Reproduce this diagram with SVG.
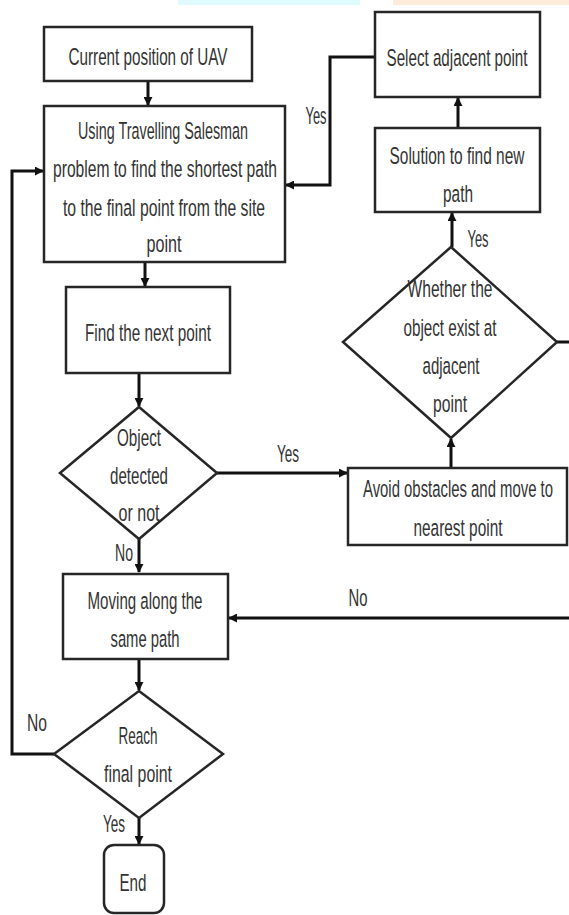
<svg xmlns="http://www.w3.org/2000/svg" width="569" height="915" viewBox="0 0 569 915">
<defs>
<style>
.box{fill:#fff;stroke:#262626;stroke-width:2.5}
.t{font-family:"Liberation Sans",Arial,sans-serif;font-size:24.5px;fill:#333;text-anchor:middle}
.c{fill:none;stroke:#111;stroke-width:3}
</style>
<marker id="ah" viewBox="0 0 10 10" refX="9" refY="5" markerWidth="3" markerHeight="3" orient="auto" markerUnits="strokeWidth">
<path d="M0,0 L10,5 L0,10 z" fill="#111"/>
</marker>
</defs>
<rect x="178" y="0" width="182" height="5" fill="#e0fbfd"/>
<rect x="393" y="0" width="176" height="5" fill="#fdebd9"/>

<g id="connectors">
<path class="c" d="M148,81 V105" marker-end="url(#ah)"/>
<path class="c" d="M145,262 V286" marker-end="url(#ah)"/>
<path class="c" d="M139,373 V406" marker-end="url(#ah)"/>
<path class="c" d="M139,539 V572" marker-end="url(#ah)"/>
<path class="c" d="M139,659 V690" marker-end="url(#ah)"/>
<path class="c" d="M139,818 V844" marker-end="url(#ah)"/>
<path class="c" d="M217,473 H347" marker-end="url(#ah)"/>
<path class="c" d="M451,468 V439" marker-end="url(#ah)"/>
<path class="c" d="M452,247 V213" marker-end="url(#ah)"/>
<path class="c" d="M458,128 V98" marker-end="url(#ah)"/>
<path class="c" d="M375,57 H330 V185 H286" marker-end="url(#ah)"/>
<path class="c" d="M557,342 H572"/>
<path class="c" d="M572,618 H229" marker-end="url(#ah)"/>
<path class="c" d="M54,754 H12 V171 H43" marker-end="url(#ah)"/>
<text class="t" x="316" y="124" textLength="21" lengthAdjust="spacingAndGlyphs">Yes</text>
<text class="t" x="478" y="247" textLength="21" lengthAdjust="spacingAndGlyphs">Yes</text>
<text class="t" x="288" y="462" textLength="22" lengthAdjust="spacingAndGlyphs">Yes</text>
<text class="t" x="124" y="561" textLength="18" lengthAdjust="spacingAndGlyphs">No</text>
<text class="t" x="358" y="606" textLength="19" lengthAdjust="spacingAndGlyphs">No</text>
<text class="t" x="37" y="731" textLength="20" lengthAdjust="spacingAndGlyphs">No</text>
<text class="t" x="114" y="832" textLength="22" lengthAdjust="spacingAndGlyphs">Yes</text>
</g>

<g id="n-current">
<rect class="box" x="44" y="27" width="208" height="54"/>
<text class="t" x="148" y="65" textLength="159" lengthAdjust="spacingAndGlyphs">Current position of UAV</text>
</g>

<g id="n-tsp">
<rect class="box" x="44" y="106" width="241" height="156"/>
<text class="t" x="163" y="139" textLength="170" lengthAdjust="spacingAndGlyphs">Using Travelling Salesman</text>
<text class="t" x="165" y="177" textLength="224" lengthAdjust="spacingAndGlyphs">problem to find the shortest path</text>
<text class="t" x="164" y="216" textLength="202" lengthAdjust="spacingAndGlyphs">to the final point from the site</text>
<text class="t" x="164" y="252" textLength="35" lengthAdjust="spacingAndGlyphs">point</text>
</g>

<g id="n-select">
<rect class="box" x="375" y="12" width="165" height="85"/>
<text class="t" x="457" y="66" textLength="141" lengthAdjust="spacingAndGlyphs">Select adjacent point</text>
</g>

<g id="n-solution">
<rect class="box" x="375" y="128" width="165" height="84"/>
<text class="t" x="457" y="164" textLength="135" lengthAdjust="spacingAndGlyphs">Solution to find new</text>
<text class="t" x="458" y="202" textLength="30" lengthAdjust="spacingAndGlyphs">path</text>
</g>

<g id="n-whether">
<polygon class="box" points="451,247 557,342 451,438 343,342"/>
<text class="t" x="450" y="297" textLength="85" lengthAdjust="spacingAndGlyphs">Whether the</text>
<text class="t" x="450" y="336" textLength="93" lengthAdjust="spacingAndGlyphs">object exist at</text>
<text class="t" x="451" y="374" textLength="57" lengthAdjust="spacingAndGlyphs">adjacent</text>
<text class="t" x="450" y="412" textLength="34" lengthAdjust="spacingAndGlyphs">point</text>
</g>

<g id="n-avoid">
<rect class="box" x="348" y="468" width="219" height="77"/>
<text class="t" x="458" y="497" textLength="190" lengthAdjust="spacingAndGlyphs">Avoid obstacles and move to</text>
<text class="t" x="458" y="536" textLength="89" lengthAdjust="spacingAndGlyphs">nearest point</text>
</g>

<g id="n-find">
<rect class="box" x="66" y="287" width="164" height="86"/>
<text class="t" x="148" y="341" textLength="126" lengthAdjust="spacingAndGlyphs">Find the next point</text>
</g>

<g id="n-object">
<polygon class="box" points="139,407 217,473 139,539 60,473"/>
<text class="t" x="139" y="446" textLength="44" lengthAdjust="spacingAndGlyphs">Object</text>
<text class="t" x="139" y="484" textLength="58" lengthAdjust="spacingAndGlyphs">detected</text>
<text class="t" x="139" y="521" textLength="41" lengthAdjust="spacingAndGlyphs">or not</text>
</g>

<g id="n-moving">
<rect class="box" x="63" y="574" width="165" height="85"/>
<text class="t" x="145" y="609" textLength="115" lengthAdjust="spacingAndGlyphs">Moving along the</text>
<text class="t" x="145" y="647" textLength="69" lengthAdjust="spacingAndGlyphs">same path</text>
</g>

<g id="n-reach">
<polygon class="box" points="139,691 223,754 139,818 54,754"/>
<text class="t" x="138" y="744" textLength="39" lengthAdjust="spacingAndGlyphs">Reach</text>
<text class="t" x="138" y="782" textLength="68" lengthAdjust="spacingAndGlyphs">final point</text>
</g>

<g id="n-end">
<rect class="box" x="104" y="845" width="60" height="68" rx="10" ry="10"/>
<text class="t" x="133" y="891" textLength="27" lengthAdjust="spacingAndGlyphs">End</text>
</g>
</svg>
